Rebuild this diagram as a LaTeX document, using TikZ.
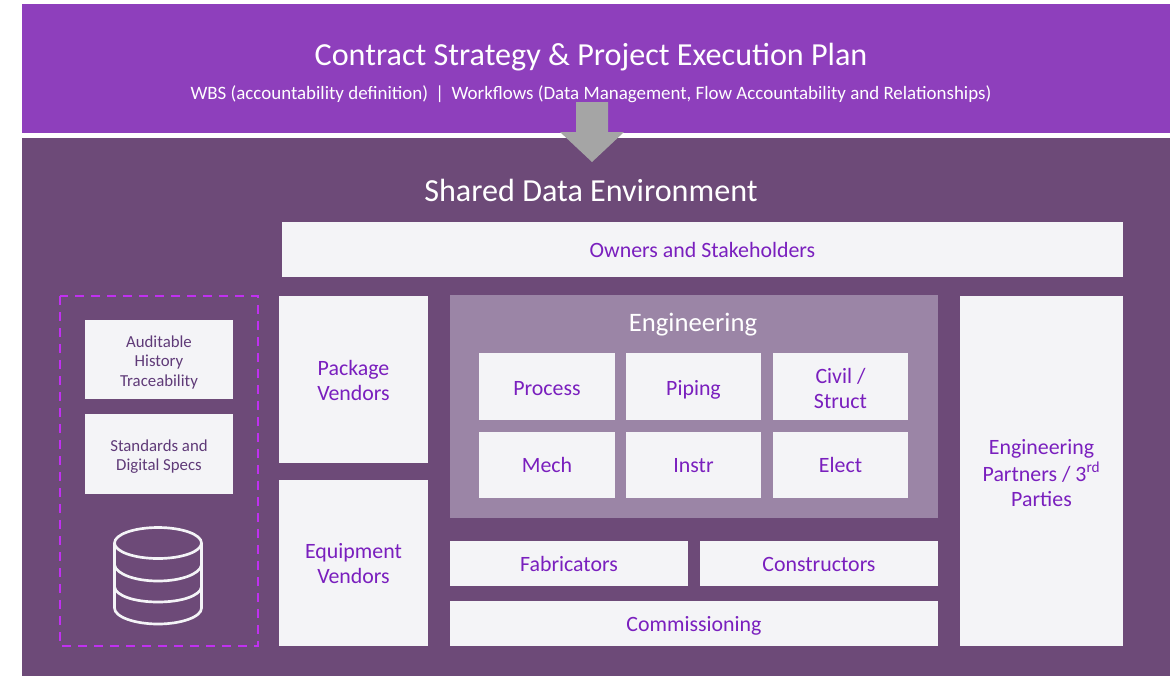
\documentclass[tikz,border=0pt]{standalone}
\usepackage{fontspec}
\setmainfont{Carlito}
\definecolor{topband}{HTML}{8E3FBC}
\definecolor{lowband}{HTML}{6D4A78}
\definecolor{engfill}{HTML}{9B85A6}
\definecolor{boxfill}{HTML}{F4F4F7}
\definecolor{boxtext}{HTML}{7A1FBE}
\definecolor{smalltext}{HTML}{5F3A78}
\definecolor{dashcol}{HTML}{C030F0}
\definecolor{arrowcol}{HTML}{A5A5A5}
\newcommand{\bx}[7]{\node[#1, minimum width={(#4-#3)*0.75pt}, minimum height={(#6-#5)*0.75pt}] (#2) at ({(#3+#4)/2},{(#5+#6)/2}) {#7};}
\newcommand{\tx}[2]{\raisebox{-#1}[\height][\depth]{\begin{tabular}{@{}c@{}}#2\end{tabular}}}
\tikzset{
  x=0.75pt,y=-0.75pt,
  plain/.style={inner sep=0pt,outer sep=0pt,align=center},
  band/.style={plain,draw=none},
  whitebox/.style={plain,fill=boxfill,text=boxtext,font=\fontsize{16.4}{18.9}\selectfont},
  smallbox/.style={plain,fill=boxfill,text=smalltext,font=\fontsize{12.6}{14.6}\selectfont},
}
\begin{document}
\begin{tikzpicture}
\useasboundingbox (0,0) rectangle (1170,676);
\fill[white] (0,0) rectangle (1170,676);
\bx{band,fill=topband}{top}{22}{1170}{4}{133}{}
\bx{band,fill=lowband}{low}{22}{1170}{138}{676}{}
\node[plain,text=white,font=\fontsize{24.1}{28}\selectfont] (title) at (591,57.5) {Contract Strategy \& Project Execution Plan};
\node[plain,text=white,font=\fontsize{14.2}{17}\selectfont] (sub) at (591,94) {WBS (accountability definition) \,|\, Workflows (Data Management, Flow Accountability and Relationships)};
\fill[arrowcol] (576,102) -- (608,102) -- (608,132) -- (624,132) -- (592,162) -- (560,132) -- (576,132) -- cycle;
\node[plain,text=white,font=\fontsize{24.1}{28}\selectfont] (sde) at (591,190) {Shared Data Environment};
\bx{whitebox}{owners}{282}{1123}{222}{277}{\tx{1.9pt}{Owners and Stakeholders}}
\bx{whitebox}{package}{279}{428}{296}{463}{\tx{2.3pt}{Package\\Vendors}}
\bx{whitebox}{equip}{279}{428}{480}{646}{\tx{2.3pt}{Equipment\\Vendors}}
\bx{band,fill=engfill}{eng}{450}{938}{295}{518}{}
\node[plain,text=white,font=\fontsize{20}{24}\selectfont] (engt) at (693,325) {Engineering};
\bx{whitebox}{process}{479}{615}{353}{420}{\tx{3pt}{Process}}
\bx{whitebox}{piping}{626}{761}{353}{420}{\tx{3pt}{Piping}}
\bx{whitebox}{civil}{773}{908}{353}{420}{\tx{3.4pt}{Civil /\\Struct}}
\bx{whitebox}{mech}{479}{615}{432}{498}{\tx{1.9pt}{Mech}}
\bx{whitebox}{instr}{626}{761}{432}{498}{\tx{1.9pt}{Instr}}
\bx{whitebox}{elect}{773}{908}{432}{498}{\tx{1.9pt}{Elect}}
\bx{whitebox}{fab}{450}{688}{541}{586}{\tx{1.9pt}{Fabricators}}
\bx{whitebox}{cons}{700}{938}{541}{586}{\tx{1.9pt}{Constructors}}
\bx{whitebox}{comm}{450}{938}{601}{646}{\tx{1.9pt}{Commissioning}}
\bx{whitebox}{partners}{960}{1123}{296}{646}{\tx{3.4pt}{Engineering\\Partners / 3\textsuperscript{rd}\\Parties}}
\draw[dashcol,line width=1.5pt,dash pattern=on 6.5pt off 5.5pt] (60,296) rectangle (258,646);
\bx{smallbox}{audit}{85}{233}{320}{399}{\tx{2.6pt}{Auditable\\History\\Traceability}}
\bx{smallbox}{stand}{85}{233}{414}{494}{\tx{2.3pt}{Standards and\\Digital Specs}}
\begin{scope}[draw=boxfill,line width=2pt]
\draw (158,543) ellipse [x radius=43.5,y radius=15.5];
\draw (114.5,543) -- (114.5,608) .. controls (114.5,617) and (135,624) .. (158,624) .. controls (181,624) and (201.5,617) .. (201.5,608) -- (201.5,543);
\draw (114.5,565) .. controls (116,574) and (135,581) .. (158,581) .. controls (181,581) and (200,574) .. (201.5,565);
\draw (114.5,587) .. controls (116,596) and (135,602) .. (158,602) .. controls (181,602) and (200,596) .. (201.5,587);
\end{scope}
\end{tikzpicture}
\end{document}
